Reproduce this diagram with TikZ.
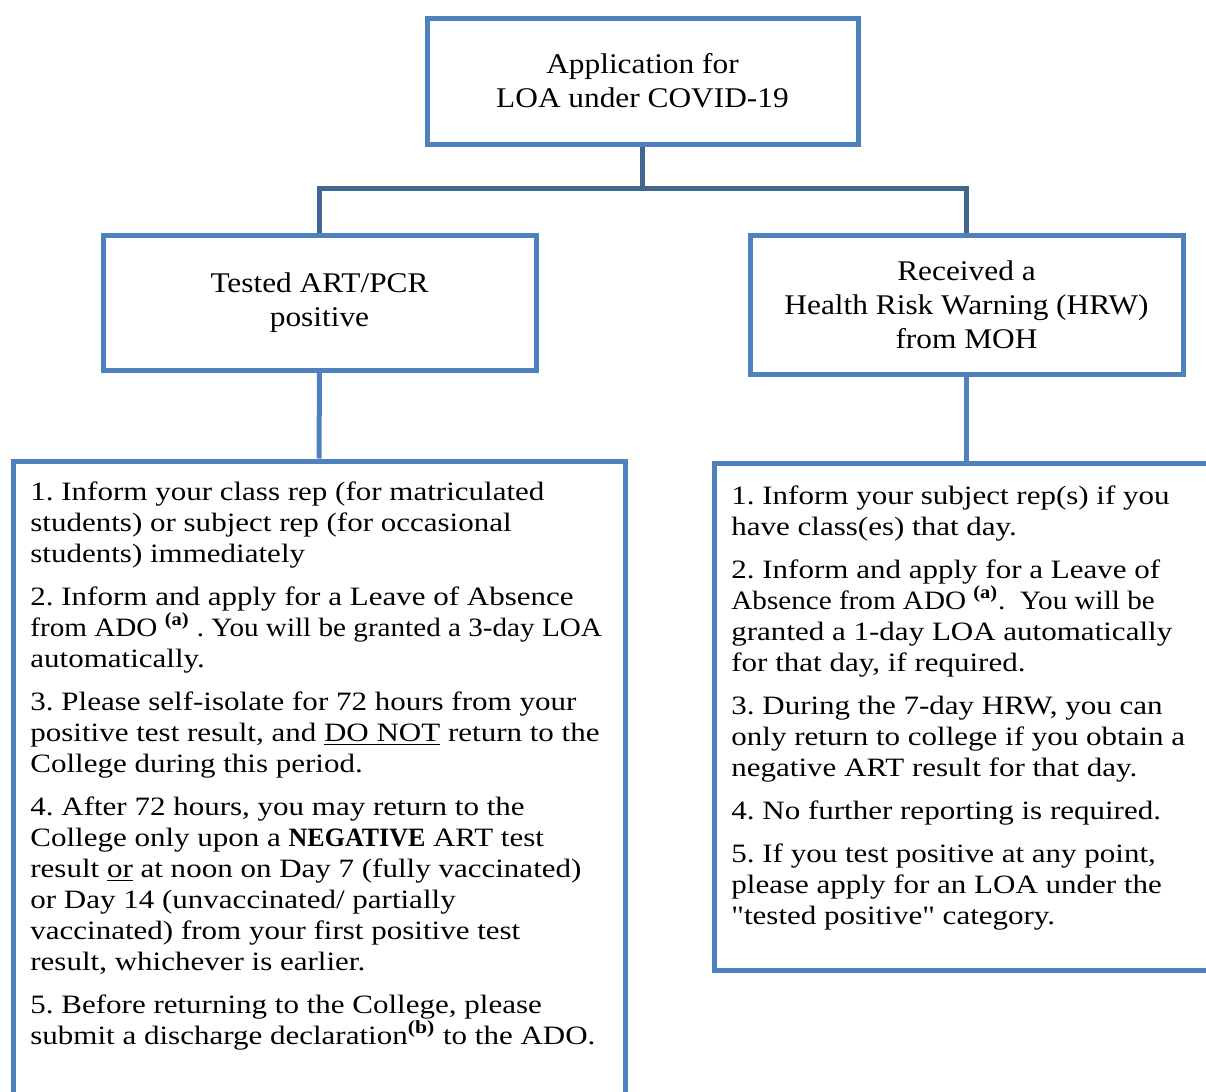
\documentclass[tikz,border=0pt]{standalone}
\usepackage{fontspec}
\setmainfont{Liberation Serif}[FakeStretch=1.1]
\newfontfamily\stepfont{Liberation Serif}[FakeStretch=1.17]
\newfontfamily\stepnarrow{Liberation Serif}[FakeStretch=1.1]
\newfontfamily\stepbold{Liberation Serif}[FakeStretch=0.98]
\definecolor{boxblue}{HTML}{4F81BD}
\definecolor{linkblue}{HTML}{41668F}
\frenchspacing

\begin{document}
\begin{tikzpicture}[x=0.5pt, y=-0.5pt]
\tikzstyle{TitleBox}=[shape = rectangle,
                      draw = boxblue,
                      line width = 2.5pt,
                      inner sep = 0pt,
                      align = center,
                      font = \fontsize{14.25}{17}\selectfont]
\tikzstyle{StepBox}=[shape = rectangle,
                     draw = boxblue,
                     line width = 2.5pt,
                     inner sep = 0pt]
\tikzstyle{StepText}=[anchor = north west,
                      inner sep = 0pt,
                      align = left,
                      font = \stepfont\fontsize{13.25}{15.5}\selectfont]
\tikzstyle{TopLink}=[draw = linkblue, line width = 2.5pt]
\tikzstyle{DownLink}=[draw = boxblue, line width = 2.5pt]
\useasboundingbox (0,0) rectangle (1206,1092);
\node[TitleBox, minimum width = 215.5pt, minimum height = 63pt] (app) at (642.5,81) {Application for\\LOA under COVID-19};
\node[TitleBox, minimum width = 216.5pt, minimum height = 67.5pt] (pos) at (319.5,302.5) {Tested ART/PCR\\positive};
\node[TitleBox, minimum width = 216.5pt, minimum height = 69.5pt] (hrw) at (966.5,304.5) {Received a\\Health Risk Warning (HRW)\\from MOH};
\node[StepBox, minimum width = 306pt, minimum height = 334.5pt] (posbox) at (319,795.5) {};
\node[StepBox, minimum width = 263pt, minimum height = 253.5pt] (hrwbox) at (977,716.5) {};
\node[StepText] (possteps) at (30,481) {1. Inform your class rep (for matriculated\\
students) or subject rep (for occasional\\
students) immediately\\[6pt]
2. Inform and apply for a Leave of Absence\\
{\stepnarrow from ADO \textsuperscript{\textbf{(a)}} . You will be granted a 3-day LOA}\\
automatically.\\[6pt]
3. Please self-isolate for 72 hours from your\\
positive test result, and \underline{DO NOT} return to the\\
College during this period.\\[6pt]
4. After 72 hours, you may return to the\\
College only upon a {\stepbold\bfseries NEGATIVE} ART test\\
result \underline{or} at noon on Day 7 (fully vaccinated)\\
or Day 14 (unvaccinated/ partially\\
vaccinated) from your first positive test\\
result, whichever is earlier.\\[6pt]
5. Before returning to the College, please\\
submit a discharge declaration\textsuperscript{\textbf{(b)}} to the ADO.};
\node[StepText] (hrwsteps) at (731,485) {1. Inform your subject rep(s) if you\\
have class(es) that day.\\[6pt]
2. Inform and apply for a Leave of\\
{\stepnarrow Absence from ADO \textsuperscript{\textbf{(a)}}.~ You will be}\\
granted a 1-day LOA automatically\\
for that day, if required.\\[6pt]
3. During the 7-day HRW, you can\\
only return to college if you obtain a\\
negative ART result for that day.\\[6pt]
4. No further reporting is required.\\[6pt]
5. If you test positive at any point,\\
please apply for an LOA under the\\
\symbol{34}tested positive\symbol{34} category.};
\draw[TopLink] (app.south) -- (642.5,188) coordinate (split);
\draw[TopLink] (pos.north) |- (split) -| (hrw.north);
\draw[DownLink] (pos.south) -- (posbox.north);
\draw[DownLink] (hrw.south) -- (hrw.south |- hrwbox.north);
\end{tikzpicture}
\end{document}
